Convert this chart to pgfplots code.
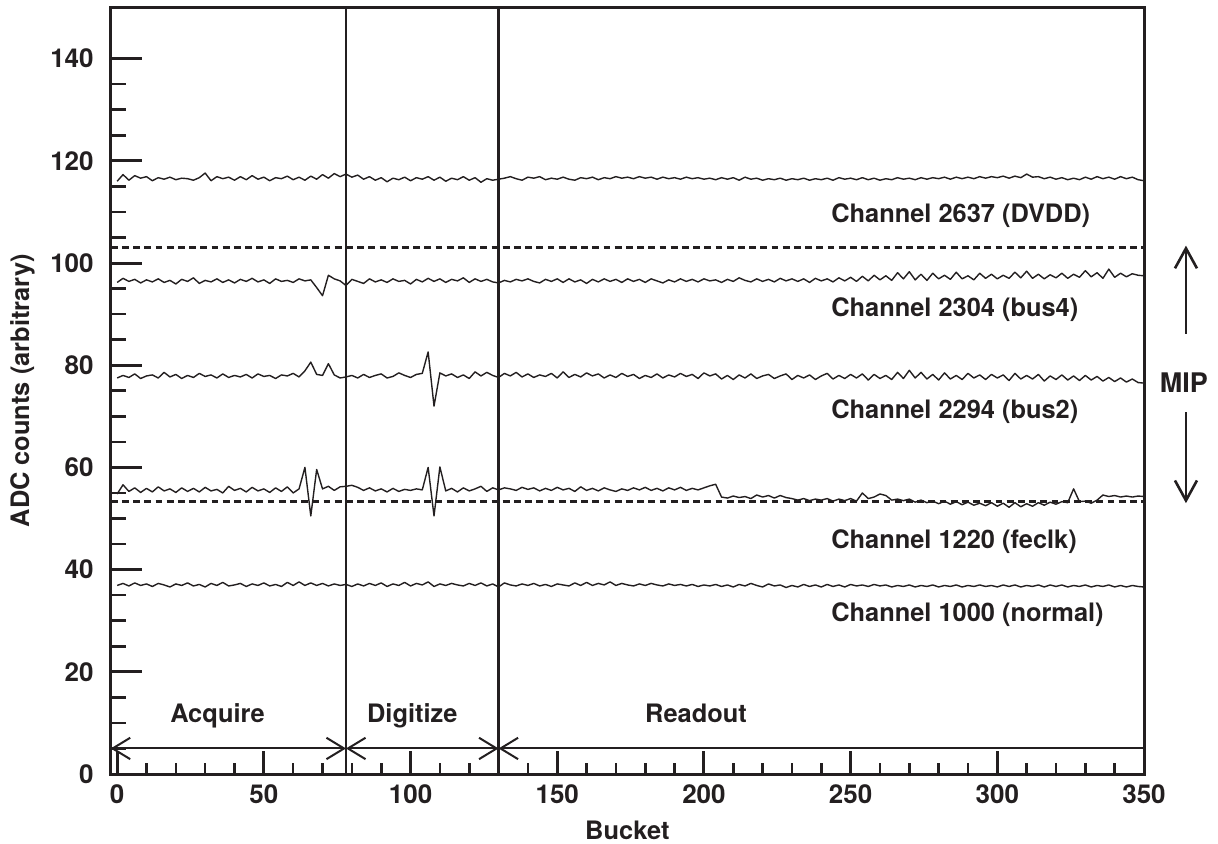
\documentclass[border=0pt]{standalone}
\usepackage{pgfplots}
\pgfplotsset{compat=1.18}
\usepackage{pgfplotstable}
\usepackage{fontspec}
\setmainfont{TeX Gyre Heros}
\usetikzlibrary{arrows.meta}
\definecolor{ink}{RGB}{35,31,32}

\pgfplotstableread{
x a b c d e
0 116.0 96.2 77.5 54.8 36.9
2 117.3 97.0 78.0 56.6 37.3
4 116.2 96.4 77.6 55.3 36.8
6 117.1 96.8 78.3 56.0 37.4
8 116.6 96.1 77.4 55.1 36.9
10 116.9 96.7 77.9 55.9 37.2
12 116.1 96.3 78.1 55.2 36.7
14 116.7 96.9 77.5 56.2 37.3
16 116.4 96.2 78.6 55.4 37.0
18 116.8 96.6 77.7 55.8 36.6
20 116.3 95.9 78.2 55.1 37.2
22 116.6 96.8 77.4 56.0 36.9
24 116.5 96.4 78.0 55.3 37.4
26 116.2 97.1 77.6 55.9 36.8
28 116.7 96.0 78.4 55.2 37.1
30 117.6 96.6 77.8 56.1 36.6
32 116.1 96.3 78.1 55.4 37.3
34 116.9 96.9 77.5 55.7 36.9
36 116.5 96.2 78.3 55.0 37.5
38 116.8 96.7 77.6 56.3 36.8
40 116.2 96.1 78.0 55.5 37.0
42 116.9 96.8 77.7 55.9 37.3
44 116.3 96.4 78.2 55.2 36.7
46 117.1 97.0 77.5 56.1 37.2
48 116.4 96.3 78.3 55.4 36.9
50 116.8 96.7 77.8 55.8 37.4
52 116.1 96.0 78.0 55.1 36.8
54 116.7 96.9 77.4 56.0 37.1
56 116.5 96.4 78.1 55.3 36.7
58 117.0 96.6 77.9 56.2 37.5
60 116.3 96.2 78.4 55.0 36.9
62 116.8 96.9 77.7 55.8 37.6
64 116.2 96.5 78.9 60.0 36.9
66 117.0 96.7 80.6 50.5 37.4
68 116.4 95.2 78.2 59.6 36.9
70 117.3 93.6 78.0 55.8 37.3
72 116.6 97.6 80.3 56.3 36.8
74 117.5 96.9 78.1 55.5 37.2
76 116.9 96.5 77.5 56.2 36.9
78 117.4 95.6 77.7 56.3 37.1
80 116.8 96.8 78.0 56.5 36.7
82 117.2 96.4 77.5 56.1 37.2
84 116.4 96.0 78.2 55.5 36.8
86 116.9 96.9 77.6 56.0 37.3
88 116.2 96.3 78.0 55.4 36.9
90 116.7 96.7 78.3 55.8 37.4
92 115.9 96.2 77.5 55.2 36.7
94 116.6 96.9 77.8 55.9 37.2
96 116.3 96.4 78.5 55.3 36.9
98 116.8 96.6 78.0 55.7 37.5
100 116.1 95.9 77.6 55.5 36.8
102 116.7 96.8 78.2 55.8 37.3
104 116.4 96.3 78.4 55.6 37.0
106 116.9 97.0 82.6 60.0 37.6
108 116.2 96.4 72.0 50.5 36.7
110 116.8 96.9 78.5 60.1 37.2
112 116.0 96.2 77.9 55.4 36.9
114 116.6 96.8 78.3 55.9 37.3
116 116.3 96.5 77.6 55.2 37.0
118 116.9 97.1 78.1 56.0 36.8
120 116.2 96.2 77.4 55.4 37.3
122 116.7 96.9 78.7 55.8 36.9
124 115.8 96.4 77.9 56.3 37.4
126 116.5 96.8 78.6 55.3 36.8
128 116.2 96.3 78.0 56.0 37.2
130 116.4 96.1 77.6 55.6 36.6
132 116.6 96.6 78.4 56.0 37.4
134 116.9 96.3 77.9 55.8 37.0
136 116.5 96.8 78.6 55.5 36.8
138 116.2 96.5 77.7 56.1 37.2
140 116.8 96.9 78.3 55.7 36.9
142 116.6 96.4 77.6 56.0 37.3
144 116.9 96.1 78.1 55.4 36.8
146 116.3 96.8 77.8 55.9 37.1
148 116.6 96.4 78.4 55.5 36.7
150 116.4 96.9 77.5 56.1 37.2
152 116.8 96.2 78.7 55.6 37.0
154 116.4 96.9 77.6 55.9 36.8
156 116.2 96.3 78.2 55.3 37.4
158 116.7 96.7 77.7 56.2 36.9
160 116.5 96.0 78.5 55.5 37.5
162 116.8 96.8 77.9 55.9 36.9
164 116.3 96.3 78.3 55.4 37.3
166 116.7 96.9 77.5 56.0 37.0
168 116.5 96.4 78.1 55.6 37.6
170 116.9 96.8 77.6 55.3 36.9
172 116.6 96.2 78.4 55.8 37.3
174 116.8 96.9 77.8 55.5 37.0
176 116.5 96.4 78.2 56.0 36.8
178 116.9 96.8 77.4 55.6 37.2
180 116.6 96.2 78.0 56.1 36.9
182 116.8 96.9 77.6 55.5 37.3
184 116.4 96.5 78.3 55.9 37.0
186 116.8 96.1 77.5 55.4 36.8
188 116.5 96.7 78.1 56.0 37.2
190 116.7 96.3 77.7 55.6 36.9
192 116.4 96.9 78.4 56.1 37.1
194 116.8 96.4 77.8 55.5 36.8
196 116.5 96.8 78.2 55.9 37.1
198 116.7 96.3 77.4 55.6 36.7
200 116.4 96.9 78.5 56.0 37.0
202 116.6 96.5 77.9 56.4 36.8
204 116.3 96.7 78.3 56.7 37.1
206 116.7 96.2 77.3 54.2 36.7
208 116.4 96.8 78.0 54.0 37.0
210 116.7 96.4 77.2 54.4 36.6
212 116.2 97.1 78.1 54.1 37.1
214 116.8 96.6 77.5 54.3 36.8
216 116.4 96.3 78.3 53.9 37.3
218 116.6 96.9 77.4 54.6 36.9
220 116.2 96.4 77.9 54.2 36.6
222 116.5 96.8 78.2 54.5 37.2
224 116.3 96.3 77.4 54.0 36.8
226 116.6 97.0 77.9 54.5 37.0
228 116.2 96.5 78.3 54.1 36.5
230 116.5 96.9 77.2 53.9 36.9
232 116.3 96.4 78.0 53.6 36.6
234 116.6 96.9 77.5 53.9 37.1
236 116.2 96.2 78.1 53.5 36.7
238 116.5 97.0 77.2 53.8 37.0
240 116.3 96.5 77.9 53.6 36.6
242 116.6 96.9 78.4 53.9 37.1
244 116.2 96.3 77.3 53.4 36.7
246 116.7 97.1 78.0 53.8 37.0
248 116.4 96.5 77.4 53.5 36.6
250 116.6 97.2 78.2 53.9 37.1
252 116.3 96.4 77.5 53.4 36.8
254 116.7 97.4 78.3 55.0 37.0
256 116.3 96.5 77.1 53.9 36.7
258 116.6 97.6 78.2 54.2 37.1
260 116.2 96.7 77.4 54.8 36.8
262 116.5 97.5 78.0 54.5 37.0
264 116.3 96.6 77.2 53.6 36.6
266 116.7 98.1 78.6 53.8 36.9
268 116.4 96.9 77.4 53.5 36.7
270 116.6 98.3 79.0 53.8 37.0
272 116.3 96.7 77.5 53.2 36.6
274 116.7 97.8 78.6 53.6 36.9
276 116.4 96.6 77.3 53.1 36.7
278 116.7 98.0 78.2 53.4 37.0
280 116.5 96.9 77.1 52.9 36.6
282 116.8 97.6 78.5 53.4 36.9
284 116.4 96.8 77.3 52.8 36.7
286 116.8 98.2 78.0 53.3 37.0
288 116.5 96.9 77.2 52.7 36.6
290 116.8 97.5 78.4 53.2 36.9
292 116.5 96.7 77.5 52.6 36.7
294 116.9 98.0 78.1 53.0 37.0
296 116.6 97.0 77.2 52.5 36.7
298 116.9 97.8 78.2 53.1 36.9
300 116.7 96.9 77.5 52.4 36.6
302 117.0 97.6 78.1 53.0 37.0
304 116.6 97.0 77.0 52.2 36.7
306 117.0 98.2 78.4 53.1 37.0
308 116.7 97.1 77.3 52.3 36.6
310 117.4 98.4 78.0 52.9 36.9
312 116.8 97.0 77.3 52.4 36.7
314 116.9 97.8 78.2 53.1 37.0
316 116.5 96.9 76.9 52.6 36.6
318 116.8 97.7 77.9 53.2 37.0
320 116.4 97.1 77.2 52.8 36.7
322 116.7 98.0 78.1 53.3 37.0
324 116.3 97.0 77.1 53.1 36.6
326 116.6 97.8 77.9 55.8 36.9
328 116.3 97.2 77.0 53.3 36.7
330 116.8 98.5 78.0 53.4 37.0
332 116.4 97.3 77.1 53.0 36.6
334 116.9 98.1 77.8 53.6 36.9
336 116.5 97.0 76.9 54.6 36.7
338 116.8 98.8 77.6 54.3 37.0
340 116.4 97.2 76.8 54.5 36.6
342 116.9 98.0 77.5 54.2 36.9
344 116.5 97.3 76.7 54.4 36.6
346 116.8 97.9 77.3 54.2 36.9
348 116.3 97.6 76.6 54.4 36.7
350 116.1 97.5 76.5 54.3 36.6
}\data

\begin{document}
\begin{tikzpicture}
\useasboundingbox (-55.35pt,-34.5pt) rectangle (553.65pt,387pt);
\begin{axis}[
  at={(0,0)}, anchor=south west,
  scale only axis, width=516.65pt, height=383.25pt,
  xmin=-2.2, xmax=350, ymin=0, ymax=150,
  clip=false,
  axis line style={ink, line width=1.5pt},
  tick pos=left, tick align=inside,
  xtick={0,50,...,350}, ytick={0,20,...,140},
  minor x tick num=4, minor y tick num=3,
  every major tick/.append style={ink, line width=1.5pt},
  every minor tick/.append style={ink, line width=1.3pt},
  xtick style={/pgfplots/major tick length=11.5pt, /pgfplots/minor tick length=5.5pt},
  ytick style={/pgfplots/major tick length=15.5pt, /pgfplots/minor tick length=7.5pt},
  /pgf/number format/assume math mode=true,
  every tick label/.append style={font=\fontsize{13}{15}\selectfont\bfseries, text=ink},
  yticklabel style={xshift=-5pt},
  xticklabel style={yshift=-2pt},
  xlabel={Bucket}, ylabel={ADC counts (arbitrary)},
  every axis x label/.style={at={(axis description cs:0.5,-0.0855)}, anchor=base, font=\fontsize{12.7}{15}\selectfont\bfseries, text=ink},
  every axis y label/.style={at={(axis description cs:-0.0854,0.5)}, rotate=90, anchor=center, font=\fontsize{12.7}{15}\selectfont\bfseries, text=ink},
]
% phase separators
\addplot[ink, line width=1.1pt] coordinates {(78,0) (78,150)};
\addplot[ink, line width=1.1pt] coordinates {(130,0) (130,150)};
% MIP thresholds
\addplot[ink, line width=1.2pt, dash pattern=on 3.4pt off 2.2pt] coordinates {(-2.2,103) (350,103)};
\addplot[ink, line width=1.2pt, dash pattern=on 3.4pt off 2.2pt] coordinates {(-2.2,53.3) (350,53.3)};
% channels
\addplot[ink, line width=0.7pt, line join=round] table[x=x, y=a] {\data};
\addplot[ink, line width=0.7pt, line join=round] table[x=x, y=b] {\data};
\addplot[ink, line width=0.7pt, line join=round] table[x=x, y=c] {\data};
\addplot[ink, line width=0.7pt, line join=round] table[x=x, y=d] {\data};
\addplot[ink, line width=0.7pt, line join=round] table[x=x, y=e] {\data};
% phase arrows
\draw[ink, line width=1pt, {Straight Barb[length=8.8pt,width=10.7pt]}-{Straight Barb[length=8.8pt,width=10.7pt]}] (axis cs:-2.2,5) -- (axis cs:78,5);
\draw[ink, line width=1pt, {Straight Barb[length=8.8pt,width=10.7pt]}-{Straight Barb[length=8.8pt,width=10.7pt]}] (axis cs:78,5) -- (axis cs:130,5);
\draw[ink, line width=1pt, {Straight Barb[length=8.8pt,width=10.7pt]}-] (axis cs:130,5) -- (axis cs:350,5);
\begin{scope}[every node/.style={font=\fontsize{12.7}{15}\selectfont\bfseries, text=ink}]
\node[anchor=base] at (axis cs:34.2,10.0) {Acquire};
\node[anchor=base] at (axis cs:100.6,10.0) {Digitize};
\node[anchor=base] at (axis cs:197.3,10.0) {Readout};
\node[anchor=base west] at (axis cs:241,108.0) {Channel 2637 (DVDD)};
\node[anchor=base west] at (axis cs:241,89.6) {Channel 2304 (bus4)};
\node[anchor=base west] at (axis cs:241,69.5) {Channel 2294 (bus2)};
\node[anchor=base west] at (axis cs:241,44.1) {Channel 1220 (feclk)};
\node[anchor=base west] at (axis cs:241,29.8) {Channel 1000 (normal)};
\node[font=\fontsize{13.5}{15}\selectfont\bfseries] at (axis cs:363.6,76.5) {MIP};
\end{scope}
\draw[ink, line width=1.3pt, -{Straight Barb[length=10pt,width=11pt]}] (axis cs:364.3,86.2) -- (axis cs:364.3,103.4);
\draw[ink, line width=1.3pt, -{Straight Barb[length=10pt,width=11pt]}] (axis cs:364.3,70.8) -- (axis cs:364.3,53.0);
\end{axis}
\end{tikzpicture}
\end{document}
